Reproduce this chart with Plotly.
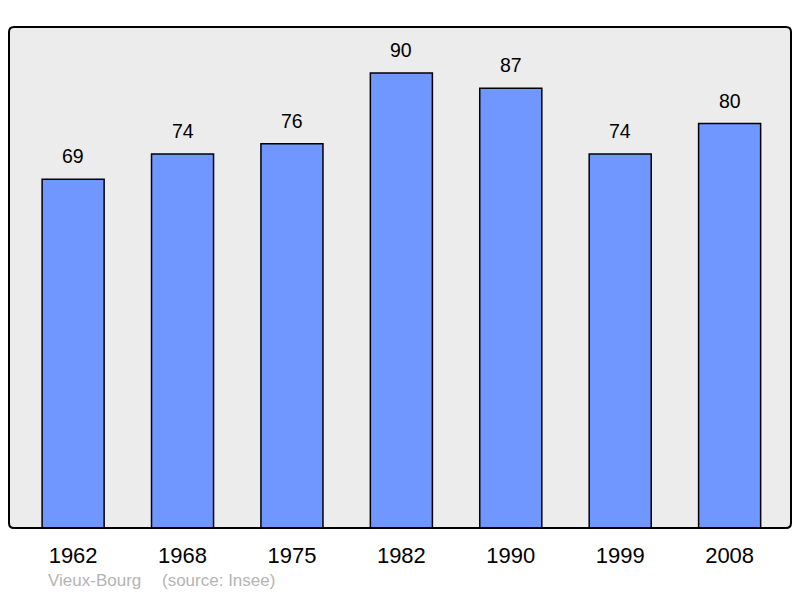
import plotly.graph_objects as go

# population by census year
years = ["1962", "1968", "1975", "1982", "1990", "1999", "2008"]
population = [69, 74, 76, 90, 87, 74, 80]
place = "Vieux-Bourg"
source = "(source: Insee)"

# page body adds 8px margin, so the figure is kept 16px smaller
W, H = 784, 582
ml, mr, mt, mb = 1, 1, 19, 62
pw, ph = W - ml - mr, H - mt - mb

fig = go.Figure()
fig.add_trace(go.Bar(
    x=list(range(len(years))), y=population,
    width=0.567,
    marker=dict(color="#7097ff", line=dict(color="#000000", width=1.5)),
    hoverinfo="y",
))

# value labels above each bar
for i, val in enumerate(population):
    fig.add_annotation(x=i, y=val, text=str(val), showarrow=False,
                       yanchor="bottom", yshift=10,
                       font=dict(size=19.5, color="#000000"))

# footer, kept inside the bottom edge
fig.add_annotation(xref="paper", yref="paper", x=37 / pw, y=-63.5 / ph,
                   xanchor="left", yanchor="bottom", text=place, showarrow=False,
                   font=dict(size=17, color="#b4b4b4"))
fig.add_annotation(xref="paper", yref="paper", x=151 / pw, y=-63.5 / ph,
                   xanchor="left", yanchor="bottom", text=source, showarrow=False,
                   font=dict(size=17, color="#b4b4b4"))

# frame round the plot area, small rounded corners
rx, ry = 5 / pw, 5 / ph
frame = (f"M {rx},0 L {1 - rx},0 Q 1,0 1,{ry} L 1,{1 - ry} Q 1,1 {1 - rx},1 "
         f"L {rx},1 Q 0,1 0,{1 - ry} L 0,{ry} Q 0,0 {rx},0 Z")
fig.add_shape(type="path", xref="paper", yref="paper", path=frame,
              line=dict(color="#000000", width=2), layer="above")

fig.update_layout(
    width=W, height=H,
    margin=dict(l=ml, r=mr, t=mt, b=mb, pad=0),
    paper_bgcolor="#ffffff",
    plot_bgcolor="#ececec",
    font=dict(family="Liberation Sans, Arial, sans-serif", color="#000000"),
    showlegend=False,
    xaxis=dict(range=[-0.586, 6.561], showgrid=False, showline=False,
               zeroline=False, ticks="", tickmode="array",
               tickvals=list(range(len(years))), ticktext=years,
               ticklabelstandoff=12, tickfont=dict(size=22)),
    yaxis=dict(range=[0, 99.1], showgrid=False, zeroline=False,
               showticklabels=False, showline=False),
)

fig.write_html("out.html")
